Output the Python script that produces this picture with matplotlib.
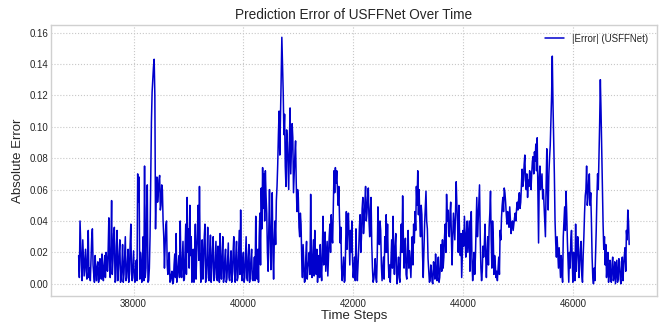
import numpy as np
import matplotlib
matplotlib.use('Agg')
import matplotlib.pyplot as plt
from matplotlib.ticker import MultipleLocator, FormatStrFormatter

# time axis: first step and spacing of the read-off samples
t_start = 37000
t_step = 25

# |error|, one row = 200 time steps (8 samples)
abs_error = [
    0.018, 0.040, 0.012, 0.028, 0.005, 0.022, 0.003, 0.034,  # 37000
    0.010, 0.015, 0.035, 0.006, 0.018, 0.002, 0.014, 0.004,
    0.012, 0.019, 0.002, 0.018, 0.020, 0.008, 0.042, 0.004,
    0.053, 0.015, 0.036, 0.002, 0.034, 0.010, 0.028, 0.003,
    0.025, 0.006, 0.030, 0.004, 0.022, 0.008, 0.038, 0.002,
    0.021, 0.001, 0.015, 0.070, 0.068, 0.020, 0.001, 0.030,  # 38000
    0.075, 0.010, 0.063, 0.002, 0.030, 0.103, 0.130, 0.143,
    0.035, 0.068, 0.058, 0.069, 0.050, 0.060, 0.030, 0.025,
    0.040, 0.006, 0.020, 0.002, 0.008, 0.001, 0.019, 0.032,
    0.005, 0.018, 0.040, 0.004, 0.027, 0.003, 0.038, 0.055,
    0.035, 0.050, 0.030, 0.008, 0.001, 0.038, 0.020, 0.050,  # 39000
    0.062, 0.001, 0.028, 0.015, 0.038, 0.006, 0.036, 0.002,
    0.031, 0.010, 0.030, 0.004, 0.027, 0.002, 0.017, 0.032,
    0.003, 0.030, 0.005, 0.022, 0.003, 0.026, 0.002, 0.021,
    0.006, 0.030, 0.001, 0.027, 0.004, 0.034, 0.047, 0.002,
    0.020, 0.004, 0.030, 0.002, 0.025, 0.005, 0.022, 0.002,  # 40000
    0.017, 0.043, 0.003, 0.001, 0.045, 0.061, 0.074, 0.070,
    0.072, 0.045, 0.008, 0.060, 0.009, 0.058, 0.003, 0.040,
    0.053, 0.076, 0.110, 0.105, 0.157, 0.122, 0.108, 0.062,
    0.090, 0.060, 0.112, 0.085, 0.093, 0.070, 0.091, 0.046,
    0.055, 0.030, 0.038, 0.004, 0.012, 0.002, 0.027, 0.010,  # 41000
    0.020, 0.057, 0.004, 0.028, 0.034, 0.006, 0.001, 0.018,
    0.025, 0.002, 0.043, 0.021, 0.008, 0.027, 0.017, 0.038,
    0.044, 0.026, 0.072, 0.074, 0.072, 0.050, 0.042, 0.036,
    0.002, 0.017, 0.002, 0.046, 0.038, 0.028, 0.034, 0.040,
    0.004, 0.017, 0.035, 0.002, 0.022, 0.044, 0.030, 0.055,  # 42000
    0.040, 0.062, 0.045, 0.061, 0.030, 0.055, 0.010, 0.003,
    0.016, 0.001, 0.049, 0.025, 0.034, 0.002, 0.017, 0.030,
    0.044, 0.038, 0.004, 0.001, 0.028, 0.043, 0.006, 0.032,
    0.000, 0.017, 0.001, 0.038, 0.056, 0.010, 0.029, 0.003,
    0.034, 0.021, 0.004, 0.030, 0.038, 0.046, 0.062, 0.072,  # 43000
    0.060, 0.030, 0.044, 0.004, 0.038, 0.059, 0.035, 0.009,
    0.002, 0.008, 0.000, 0.010, 0.019, 0.002, 0.017, 0.004,
    0.025, 0.028, 0.017, 0.038, 0.057, 0.047, 0.030, 0.052,
    0.012, 0.045, 0.028, 0.065, 0.038, 0.050, 0.018, 0.004,
    0.034, 0.043, 0.017, 0.040, 0.030, 0.008, 0.046, 0.002,  # 44000
    0.020, 0.017, 0.055, 0.040, 0.063, 0.010, 0.008, 0.017,
    0.038, 0.004, 0.030, 0.036, 0.059, 0.010, 0.030, 0.018,
    0.004, 0.002, 0.017, 0.034, 0.042, 0.055, 0.061, 0.052,
    0.038, 0.040, 0.049, 0.032, 0.040, 0.038, 0.045, 0.048,
    0.047, 0.058, 0.052, 0.073, 0.066, 0.082, 0.060, 0.055,  # 45000
    0.062, 0.068, 0.070, 0.081, 0.084, 0.089, 0.093, 0.026,
    0.075, 0.065, 0.054, 0.050, 0.030, 0.086, 0.047, 0.080,
    0.103, 0.145, 0.093, 0.040, 0.017, 0.020, 0.023, 0.004,
    0.008, 0.030, 0.049, 0.059, 0.027, 0.001, 0.010, 0.034,
    0.001, 0.013, 0.038, 0.017, 0.025, 0.012, 0.027, 0.001,  # 46000
    0.030, 0.056, 0.075, 0.055, 0.070, 0.058, 0.017, 0.000,
    0.002, 0.034, 0.070, 0.080, 0.130, 0.085, 0.038, 0.030,
    0.025, 0.013, 0.001, 0.015, 0.001, 0.017, 0.005, 0.000,
    0.015, 0.003, 0.014, 0.000, 0.017, 0.012, 0.023, 0.034,
    0.047, 0.025,  # 47000
]

# |error| at the half steps in between (t + 12.5), same row layout
abs_error_half = [
    0.004, 0.026, 0.002, 0.016, 0.014, 0.008, 0.020, 0.004,  # 37000
    0.002, 0.029, 0.012, 0.001, 0.009, 0.011, 0.001, 0.016,
    0.003, 0.009, 0.012, 0.004, 0.013, 0.022, 0.010, 0.025,
    0.006, 0.032, 0.001, 0.024, 0.002, 0.020, 0.001, 0.012,
    0.001, 0.019, 0.002, 0.014, 0.001, 0.025, 0.006, 0.012,
    0.004, 0.009, 0.002, 0.052, 0.003, 0.012, 0.018, 0.002,  # 38000
    0.004, 0.048, 0.001, 0.010, 0.066, 0.122, 0.138, 0.120,
    0.062, 0.052, 0.066, 0.047, 0.063, 0.040, 0.010, 0.037,
    0.012, 0.014, 0.001, 0.006, 0.000, 0.012, 0.004, 0.001,
    0.012, 0.004, 0.010, 0.015, 0.002, 0.021, 0.006, 0.020,
    0.010, 0.018, 0.001, 0.022, 0.017, 0.003, 0.032, 0.015,  # 39000
    0.020, 0.016, 0.003, 0.030, 0.001, 0.017, 0.004, 0.020,
    0.001, 0.022, 0.002, 0.016, 0.006, 0.024, 0.001, 0.012,
    0.018, 0.001, 0.016, 0.001, 0.014, 0.004, 0.013, 0.001,
    0.020, 0.008, 0.018, 0.002, 0.019, 0.006, 0.012, 0.014,
    0.001, 0.018, 0.004, 0.017, 0.001, 0.016, 0.003, 0.008,  # 40000
    0.002, 0.014, 0.022, 0.030, 0.012, 0.035, 0.048, 0.040,
    0.056, 0.020, 0.035, 0.030, 0.036, 0.020, 0.028, 0.025,
    0.062, 0.095, 0.082, 0.130, 0.138, 0.095, 0.075, 0.098,
    0.075, 0.090, 0.070, 0.102, 0.058, 0.082, 0.064, 0.060,
    0.036, 0.045, 0.015, 0.025, 0.001, 0.018, 0.003, 0.014,  # 41000
    0.006, 0.018, 0.016, 0.005, 0.012, 0.022, 0.011, 0.004,
    0.010, 0.020, 0.012, 0.033, 0.018, 0.005, 0.030, 0.020,
    0.030, 0.050, 0.058, 0.064, 0.060, 0.062, 0.026, 0.010,
    0.010, 0.001, 0.026, 0.022, 0.045, 0.012, 0.020, 0.015,
    0.010, 0.002, 0.014, 0.012, 0.036, 0.020, 0.048, 0.032,  # 42000
    0.052, 0.040, 0.055, 0.040, 0.048, 0.025, 0.001, 0.008,
    0.004, 0.018, 0.030, 0.040, 0.012, 0.010, 0.003, 0.020,
    0.020, 0.015, 0.012, 0.014, 0.010, 0.018, 0.024, 0.008,
    0.010, 0.004, 0.022, 0.020, 0.030, 0.018, 0.006, 0.020,
    0.010, 0.012, 0.020, 0.012, 0.026, 0.034, 0.050, 0.044,  # 43000
    0.040, 0.050, 0.018, 0.020, 0.048, 0.040, 0.016, 0.001,
    0.012, 0.001, 0.014, 0.003, 0.006, 0.012, 0.001, 0.012,
    0.008, 0.010, 0.030, 0.020, 0.040, 0.032, 0.045, 0.030,
    0.030, 0.036, 0.045, 0.050, 0.020, 0.030, 0.032, 0.020,
    0.024, 0.030, 0.032, 0.020, 0.040, 0.030, 0.015, 0.012,  # 44000
    0.006, 0.036, 0.030, 0.052, 0.030, 0.002, 0.024, 0.025,
    0.018, 0.020, 0.012, 0.045, 0.028, 0.040, 0.006, 0.012,
    0.008, 0.010, 0.006, 0.028, 0.050, 0.046, 0.058, 0.044,
    0.046, 0.036, 0.040, 0.038, 0.034, 0.042, 0.040, 0.052,
    0.054, 0.048, 0.062, 0.062, 0.076, 0.066, 0.070, 0.066,  # 45000
    0.072, 0.060, 0.078, 0.070, 0.078, 0.072, 0.060, 0.068,
    0.060, 0.070, 0.060, 0.040, 0.062, 0.060, 0.070, 0.088,
    0.120, 0.115, 0.070, 0.026, 0.030, 0.010, 0.014, 0.018,
    0.001, 0.040, 0.034, 0.045, 0.014, 0.020, 0.028, 0.016,
    0.020, 0.002, 0.008, 0.030, 0.004, 0.022, 0.006, 0.018,  # 46000
    0.045, 0.060, 0.050, 0.066, 0.050, 0.040, 0.004, 0.010,
    0.018, 0.055, 0.060, 0.102, 0.110, 0.060, 0.022, 0.012,
    0.004, 0.020, 0.010, 0.004, 0.012, 0.002, 0.014, 0.008,
    0.001, 0.016, 0.003, 0.010, 0.002, 0.018, 0.008, 0.028,
    0.040,  # 47000
]


def main():
    plt.style.use('seaborn-v0_8-whitegrid')
    plt.rcParams['font.family'] = ['Liberation Sans', 'DejaVu Sans']

    # merge the full and half step readings into one series
    n = len(abs_error)
    series = np.empty(2 * n - 1)
    series[0::2] = abs_error
    series[1::2] = abs_error_half
    time_steps = t_start + (t_step / 2) * np.arange(len(series))

    fig, ax = plt.subplots(figsize=(6.64, 3.24), dpi=100)
    fig.subplots_adjust(left=0.077, right=0.989, bottom=0.086, top=0.923)

    ax.plot(time_steps, series, color='mediumblue', linewidth=1.1,
            label='|Error| (USFFNet)')

    ax.set_title('Prediction Error of USFFNet Over Time', fontsize=9.8, pad=4)
    ax.set_xlabel('Time Steps', fontsize=9.5, labelpad=1)
    ax.set_ylabel('Absolute Error', fontsize=9.5)
    ax.xaxis.set_major_locator(MultipleLocator(2000))
    ax.yaxis.set_major_locator(MultipleLocator(0.02))
    ax.yaxis.set_major_formatter(FormatStrFormatter('%.2f'))
    ax.tick_params(labelsize=7, pad=2)

    ax.grid(True, linestyle=':', color='#c8c8c8', linewidth=0.8)
    for s in ax.spines.values():
        s.set_visible(True)
        s.set_color('#d0d0d0')

    ax.legend(loc='upper right', fontsize=7, frameon=False)
    fig.savefig('out.png', dpi=100)


if __name__ == "__main__":
    main()
